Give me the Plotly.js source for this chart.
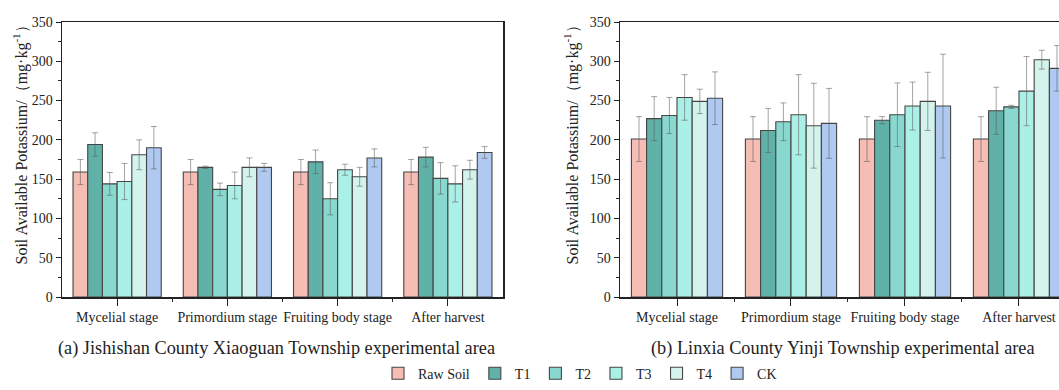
<!DOCTYPE html>
<html>
<head>
<meta charset="utf-8">
<script src="https://cdn.plot.ly/plotly-3.0.1.min.js"></script>
<style>html,body{margin:0;padding:0;background:#fff;}#chart{width:1059px;height:390px;}</style>
</head>
<body>
<div id="chart"></div>
<script>
// Categories and series
const stages = ["Mycelial stage", "Primordium stage", "Fruiting body stage", "After harvest"];
const seriesNames = ["Raw Soil", "T1", "T2", "T3", "T4", "CK"];

// (a) Jishishan County Xiaoguan Township experimental area
const aRawSoil = [159, 159, 159, 159];
const aT1 = [194, 165, 172, 178];
const aT2 = [144, 137, 125, 151];
const aT3 = [147, 142, 162, 144];
const aT4 = [181, 165, 153, 162];
const aCK = [190, 165, 177, 184];
const aRawSoilErr = [16, 16, 16, 16];
const aT1Err = [15, 1.5, 15, 12.5];
const aT2Err = [14.5, 8, 20.5, 20];
const aT3Err = [23, 17, 7, 23];
const aT4Err = [19, 12, 12, 12];
const aCKErr = [27, 5, 11.5, 7.5];

// (b) Linxia County Yinji Township experimental area
const bRawSoil = [201, 201, 201, 201];
const bT1 = [227, 212, 225, 237];
const bT2 = [231, 223, 232, 242];
const bT3 = [254, 232, 243, 262];
const bT4 = [249, 218, 249, 302];
const bCK = [253, 221, 243, 291];
const bRawSoilErr = [28.5, 28.5, 28.5, 28.5];
const bT1Err = [28, 28, 4.6, 30];
const bT2Err = [23, 24, 40.5, 2];
const bT3Err = [29, 51, 30.5, 44];
const bT4Err = [15.5, 54, 37, 12];
const bCKErr = [33.5, 44.5, 66, 29];

const colors = ["#F5BDB3", "#60B2A8", "#89D8CF", "#AAF0E7", "#D3F3EC", "#AFC9F0"];

const aVals = [aRawSoil, aT1, aT2, aT3, aT4, aCK];
const aErrs = [aRawSoilErr, aT1Err, aT2Err, aT3Err, aT4Err, aCKErr];
const bVals = [bRawSoil, bT1, bT2, bT3, bT4, bCK];
const bErrs = [bRawSoilErr, bT1Err, bT2Err, bT3Err, bT4Err, bCKErr];

const xIdx = stages.map((_, i) => i);
const serif = "Liberation Serif, Times New Roman, serif";

const traces = [];
function addPanel(vals, errs, xa, ya, showLegend) {
  vals.forEach((v, k) => {
    traces.push({
      type: "bar",
      name: seriesNames[k],
      x: xIdx,
      y: v,
      xaxis: xa,
      yaxis: ya,
      showlegend: showLegend,
      legendgroup: seriesNames[k],
      marker: { color: colors[k], line: { color: "#454545", width: 1.1 } },
      error_y: { type: "data", array: errs[k], visible: true, color: "rgba(90,90,90,0.55)", thickness: 1, width: 3 },
      hoverinfo: "y+name"
    });
  });
}
addPanel(aVals, aErrs, "x", "y", true);
addPanel(bVals, bErrs, "x2", "y2", false);

const W = 1059;
function xaxisDef(domain, range) {
  return {
    domain: domain,
    range: range,
    tickmode: "array",
    tickvals: xIdx,
    ticktext: stages,
    ticks: "outside",
    ticklen: 7,
    tickwidth: 1,
    tickcolor: "#222",
    showline: true,
    linecolor: "#222",
    linewidth: 1.5,
    mirror: true,
    showgrid: false,
    zeroline: false,
    fixedrange: true,
    minor: { tickmode: "array", tickvals: [0.5, 1.5, 2.5], ticks: "outside", ticklen: 3, tickcolor: "#222", tickwidth: 1 },
    tickfont: { family: serif, size: 14, color: "#222" }
  };
}
function yaxisDef(anchor, mirror) {
  return {
    anchor: anchor,
    range: [0, 350],
    dtick: 50,
    ticks: "outside",
    ticklen: 5,
    tickwidth: 1,
    tickcolor: "#222",
    showline: true,
    linecolor: "#222",
    linewidth: 1.5,
    mirror: mirror,
    showgrid: false,
    zeroline: false,
    fixedrange: true,
    minor: { dtick: 25, ticks: "outside", ticklen: 3, tickcolor: "#222", tickwidth: 1 },
    tickfont: { family: serif, size: 14, color: "#222" }
  };
}

const plotH = 390 - 22 - 87.3;
const ytitle = "Soil Available Potassium/（mg·kg<sup>-1</sup>）";
const layout = {
  width: 1059,
  height: 390,
  margin: { l: 0, r: 0, t: 22, b: 87.3 },
  paper_bgcolor: "#fff",
  plot_bgcolor: "#fff",
  barmode: "group",
  bargap: 0.2,
  bargroupgap: 0,
  font: { family: serif, color: "#222" },
  xaxis: xaxisDef([62 / W, 503 / W], [-0.5, 3.5]),
  yaxis: yaxisDef("x", true),
  xaxis2: Object.assign(xaxisDef([620 / W, 1], [-0.5, 3.351]), { anchor: "y2" }),
  yaxis2: yaxisDef("x2", false),
  showlegend: true,
  legend: {
    orientation: "h",
    x: 580 / W,
    xanchor: "center",
    y: -(381 - 302.7) / plotH,
    yanchor: "middle",
    font: { family: serif, size: 14, color: "#222" },
    itemwidth: 30,
    tracegroupgap: 0,
    traceorder: "normal"
  },
  annotations: [
    { text: "(a) Jishishan County Xiaoguan Township experimental area", xref: "paper", yref: "paper",
      x: 277 / W, y: -(355 - 302.7) / plotH, xanchor: "center", yanchor: "middle", showarrow: false,
      font: { family: serif, size: 18.3, color: "#222" } },
    { text: "(b) Linxia County Yinji Township experimental area", xref: "paper", yref: "paper",
      x: 843 / W, y: -(355 - 302.7) / plotH, xanchor: "center", yanchor: "middle", showarrow: false,
      font: { family: serif, size: 18.3, color: "#222" } },
    { text: ytitle, xref: "paper", yref: "paper", x: 21 / W, y: (302.7 - 144) / plotH,
      xanchor: "center", yanchor: "middle", textangle: -90, showarrow: false,
      font: { family: serif, size: 16, color: "#222" } },
    { text: ytitle, xref: "paper", yref: "paper", x: 572 / W, y: (302.7 - 144) / plotH,
      xanchor: "center", yanchor: "middle", textangle: -90, showarrow: false,
      font: { family: serif, size: 16, color: "#222" } }
  ]
};

Plotly.newPlot("chart", traces, layout, { displayModeBar: false, staticPlot: true });
</script>
</body>
</html>
